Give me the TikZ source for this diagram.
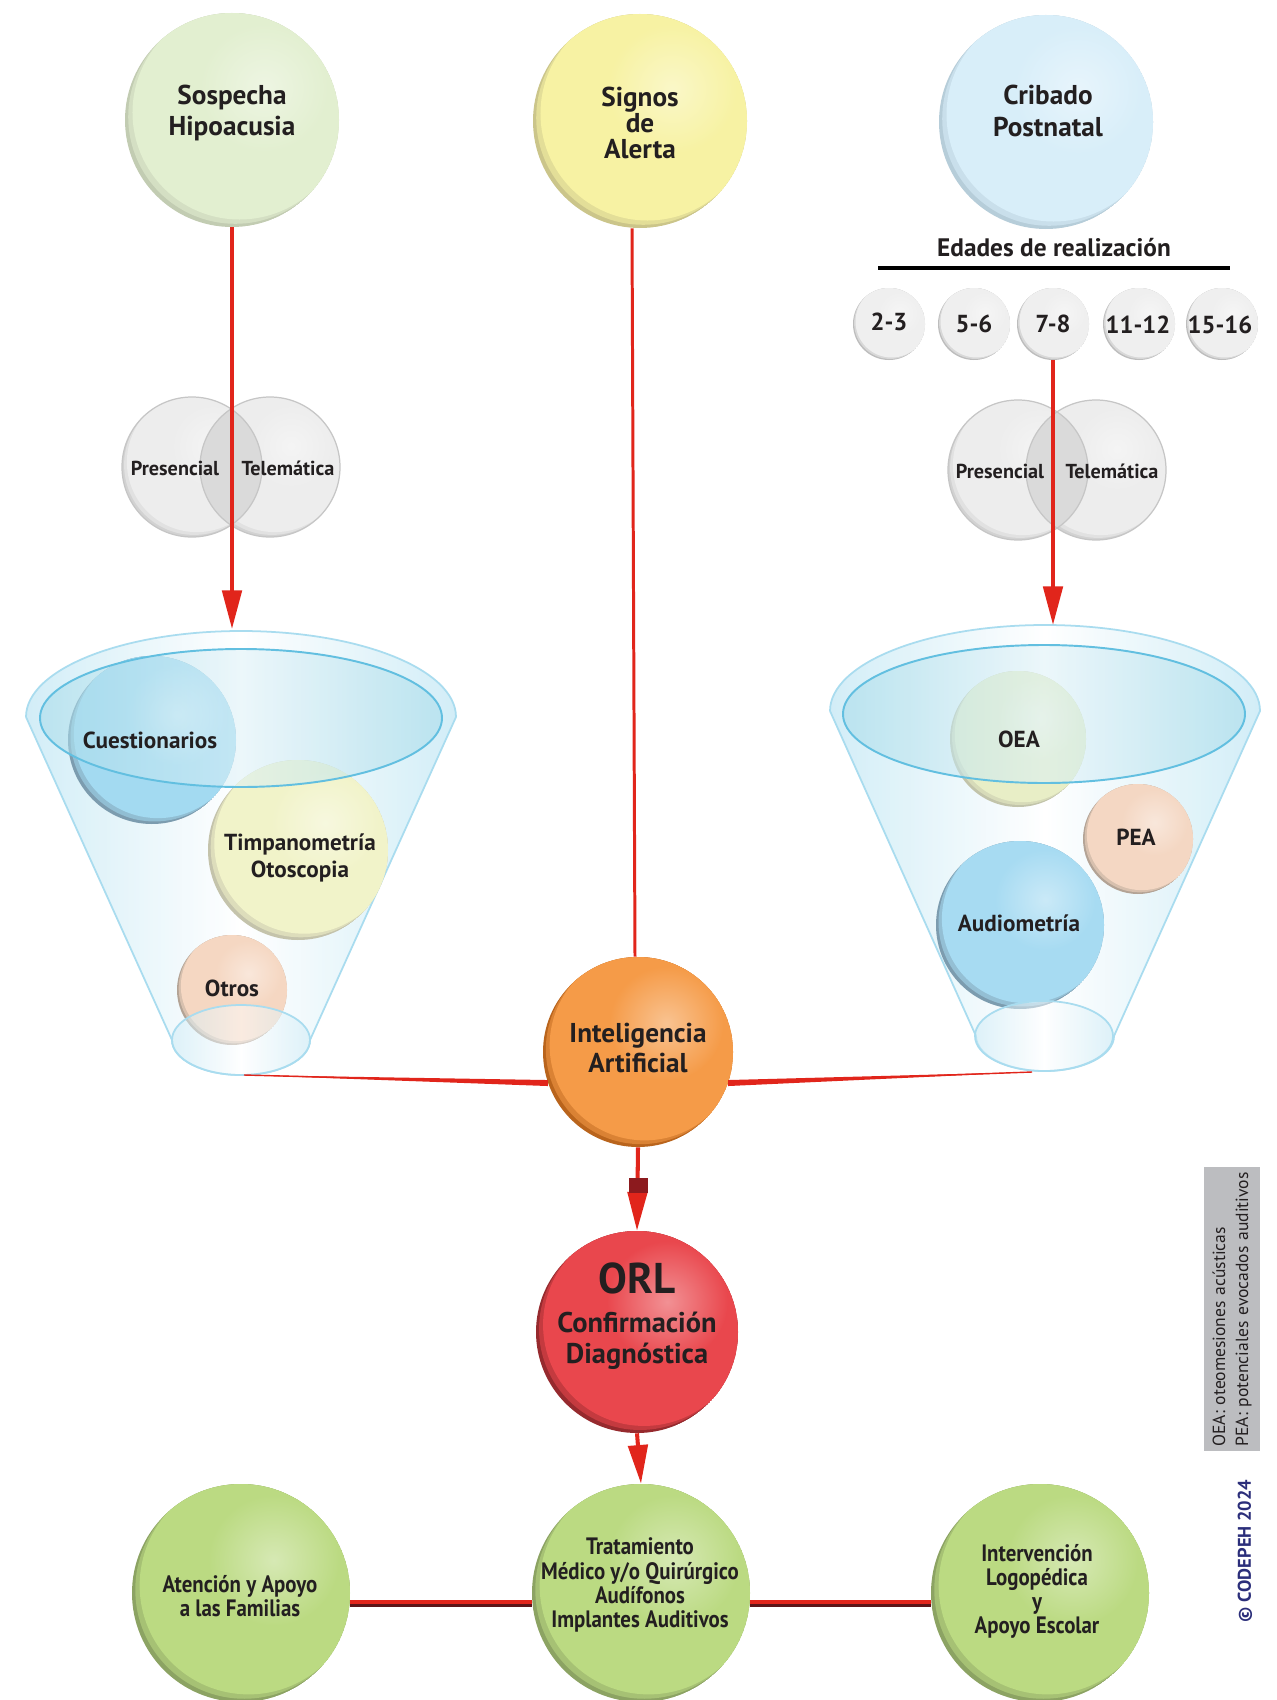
\documentclass[tikz,border=0pt]{standalone}
\usepackage{fontspec}
\setmainfont{PT Sans}
\newfontfamily\condfont{PT Sans}[FakeStretch=0.88]
\usetikzlibrary{arrows.meta,calc}

\definecolor{txt}{HTML}{231F20}
\definecolor{arrowred}{HTML}{E1251B}
\definecolor{darkred}{HTML}{8C1A1E}
\definecolor{linedark}{HTML}{5C1518}
\definecolor{sospL}{HTML}{E2EFD0}\definecolor{sospD}{HTML}{C2CCB2}
\definecolor{signL}{HTML}{F7F2A3}\definecolor{signD}{HTML}{CBC58A}
\definecolor{cribL}{HTML}{D8EEF9}\definecolor{cribD}{HTML}{B6CDD9}
\definecolor{ageL}{HTML}{EFEFEF}\definecolor{ageD}{HTML}{BDBDBD}
\definecolor{vennL}{HTML}{EDEDED}\definecolor{vennD}{HTML}{D2D2D2}
\definecolor{vennO}{HTML}{DADADA}\definecolor{vennE}{HTML}{C6C6C6}
\definecolor{cuesL}{HTML}{A3DAF1}\definecolor{cuesD}{HTML}{7C9CAF}
\definecolor{timpL}{HTML}{F1F3C9}\definecolor{timpD}{HTML}{C4C3AB}
\definecolor{otroL}{HTML}{F5D7C2}\definecolor{otroD}{HTML}{B3A395}
\definecolor{oeaL}{HTML}{E8EEC6}\definecolor{oeaD}{HTML}{C2C4AA}
\definecolor{peaL}{HTML}{F4D7C3}\definecolor{peaD}{HTML}{B3A395}
\definecolor{audL}{HTML}{A7DBF2}\definecolor{audD}{HTML}{7C9CAF}
\definecolor{iaL}{HTML}{F59B48}\definecolor{iaD}{HTML}{B9641C}
\definecolor{orlL}{HTML}{E9474D}\definecolor{orlD}{HTML}{962A2E}
\definecolor{grnL}{HTML}{BBDA82}\definecolor{grnD}{HTML}{8CA363}
\definecolor{funL}{HTML}{CBEBF6}\definecolor{funE}{HTML}{A9DCEF}
\definecolor{ellL}{HTML}{A6DBEA}\definecolor{ellM}{HTML}{DDF1F7}\definecolor{ellE}{HTML}{62BFE0}
\definecolor{legendgray}{HTML}{BCBDC0}
\definecolor{navyc}{HTML}{2B2E7A}

% background of a shaded disc + an empty named circle node
\newcommand\orb[6]{%
  \begin{scope}
    \clip (#2,#3) circle[radius=#4];
    \fill[#6] (#2,#3) circle[radius=#4];
    \fill[#6!45!#5] (#2+0.03*#4,#3-0.03*#4) circle[radius=#4];
    \fill[#5] (#2+0.07*#4,#3-0.07*#4) circle[radius=#4];
    \shade[inner color=white!40!#5, outer color=#5] (#2+0.3*#4,#3-0.3*#4) circle[radius=0.6*#4];
  \end{scope}
  \node[circle, inner sep=0pt, minimum size={#4*0.04cm}] (#1) at (#2,#3) {};
}
% funnel body: cx, rim y, bottom y
\newcommand\funbody[3]{%
  \path[left color=funL, right color=funL, middle color=white, opacity=0.85]
    (#1-215,#2) -- (#1-69,#3) arc[start angle=180, end angle=0, x radius=69, y radius=35]
    -- (#1+215,#2) arc[start angle=0, end angle=-180, x radius=215, y radius=86] -- cycle;
  \draw[funE, line width=1pt]
    (#1-215,#2) -- (#1-69,#3) arc[start angle=180, end angle=0, x radius=69, y radius=35]
    -- (#1+215,#2) arc[start angle=0, end angle=-180, x radius=215, y radius=86];
}
% funnel front: cx, inner ellipse y, bottom y
\newcommand\funfront[3]{%
  \path[left color=ellL, right color=ellL, middle color=ellM, opacity=0.55]
    (#1,#2) ellipse[x radius=201, y radius=69];
  \draw[ellE, line width=1.1pt] (#1,#2) ellipse[x radius=201, y radius=69];
  \path[left color=funL, right color=funL, middle color=white, opacity=0.5]
    (#1,#3) ellipse[x radius=69, y radius=35];
  \draw[funE, line width=1pt] (#1,#3) ellipse[x radius=69, y radius=35];
}
% venn pair: left name, right name, x1, x2, y
\newcommand\venn[5]{%
  \orb{#1}{#3}{#5}{70}{vennL}{vennD}
  \orb{#2}{#4}{#5}{70}{vennL}{vennD}
  \begin{scope}
    \clip (#3,#5) circle[radius=70];
    \fill[vennO] (#4,#5) circle[radius=70];
  \end{scope}
  \draw[vennE, line width=0.7pt] (#3,#5) circle[radius=70];
  \draw[vennE, line width=0.7pt] (#4,#5) circle[radius=70];
}

\begin{document}
\begin{tikzpicture}[x=0.02cm, y=-0.02cm,
  lbl/.style={text=txt, align=center, inner sep=0pt},
  big/.style={lbl, font=\bfseries\fontsize{15.5}{17.8}\selectfont},
  sph/.style={lbl, font=\bfseries\fontsize{13.2}{15.5}\selectfont},
  vlbl/.style={lbl, font=\bfseries\fontsize{11.5}{13}\selectfont},
  agelbl/.style={lbl, font=\bfseries\fontsize{14}{16}\selectfont},
  cond/.style={lbl, font=\condfont\bfseries\fontsize{13.5}{13.7}\selectfont},
  redarrow/.style={draw=arrowred, line width=2.3pt, -{Triangle[length=22pt, width=11pt]}},
  redline/.style={draw=arrowred, line width=1.7pt},
  hline/.style={draw=arrowred, line width=2.4pt,
    preaction={draw=linedark, line width=4pt, transform canvas={yshift=-0.7pt}}}]

\useasboundingbox (0,0) rectangle (1277,1700);
\fill[white] (0,0) rectangle (1277,1700);

% ---------- top discs ----------
\orb{sosp}{232}{120}{107}{sospL}{sospD}
\node[big] (sospT) at (232,113) {Sospecha\\Hipoacusia};
\orb{sign}{640}{121}{107}{signL}{signD}
\node[lbl, font=\bfseries\fontsize{15.5}{15}\selectfont] (signT) at (640,123) {Signos\\de\\Alerta};
\orb{crib}{1046}{122}{107}{cribL}{cribD}
\node[big] (cribT) at (1048,111) {Cribado\\Postnatal};

\node[lbl, font=\bfseries\fontsize{14.4}{16}\selectfont] (edades) at (1054,248) {Edades de realización};
\draw[line width=2.8pt, black] (878,268) -- (1230,268);

\orb{a23}{889}{324}{36}{ageL}{ageD}
\node[agelbl] (a23T) at (889,322) {2-3};
\orb{a56}{974}{324}{36}{ageL}{ageD}
\node[agelbl] (a56T) at (974,324) {5-6};
\orb{a78}{1053}{324}{36}{ageL}{ageD}
\node[agelbl] (a78T) at (1053,324) {7-8};
\orb{a1112}{1139}{324}{36}{ageL}{ageD}
\node[agelbl] (a1112T) at (1138,325) {11-12};
\orb{a1516}{1222}{324}{36}{ageL}{ageD}
\node[agelbl] (a1516T) at (1220,325) {15-16};

% ---------- venn pairs ----------
\venn{presL}{teleL}{192}{270}{467}
\node[vlbl] (presLT) at (175,468) {Presencial};
\node[vlbl] (teleLT) at (288,468) {Telemática};
\venn{presR}{teleR}{1018}{1096}{470}
\node[vlbl] (presRT) at (1000,471) {Presencial};
\node[vlbl] (teleRT) at (1112,471) {Telemática};

% ---------- funnels ----------
\funbody{241}{717}{1040}
\orb{cues}{152}{740}{84}{cuesL}{cuesD}
\orb{timp}{298}{850}{90}{timpL}{timpD}
\orb{otros}{232}{990}{55}{otroL}{otroD}
\funfront{241}{718}{1040}
\node[sph] (cuesT) at (150,740) {Cuestionarios};
\node[sph] (timpT) at (300,858) {Timpanometría\\Otoscopia};
\node[sph] (otrosT) at (232,988) {Otros};

\funbody{1045}{711}{1036}
\orb{oea}{1018}{739}{68}{oeaL}{oeaD}
\orb{pea}{1138}{839}{55}{peaL}{peaD}
\orb{aud}{1020}{925}{84}{audL}{audD}
\funfront{1044}{714}{1036}
\node[sph] (oeaT) at (1019,739) {OEA};
\node[sph] (peaT) at (1136,837) {PEA};
\node[sph] (audT) at (1019,923) {Audiometría};

\coordinate (lfin) at (232,629);
\coordinate (rfin) at (1053,625);
\coordinate (lfbot) at (244,1075);
\coordinate (rfbot) at (1032,1072);

% ---------- centre column ----------
\orb{ia}{638}{1052}{95}{iaL}{iaD}
\node[lbl, font=\bfseries\fontsize{15.5}{17.5}\selectfont] (iaT) at (638,1048) {Inteligencia\\Artificial};
\orb{orl}{637}{1332}{101}{orlL}{orlD}
\node[lbl, font=\bfseries\fontsize{16.2}{17.5}\selectfont] (orlT) at (637,1316)
  {{\fontsize{24.5}{25}\selectfont ORL}\\[5pt]Confirmación\\Diagnóstica};

% ---------- bottom row ----------
\orb{atn}{241}{1593}{109}{grnL}{grnD}
\node[cond] (atnT) at (240,1596) {Atención y Apoyo\\a las Familias};
\orb{trat}{641}{1593}{109}{grnL}{grnD}
\node[cond] (tratT) at (640,1585) {Tratamiento\\Médico y/o Quirúrgico\\Audífonos\\Implantes Auditivos};
\orb{interv}{1040}{1593}{109}{grnL}{grnD}
\node[cond] (intervT) at (1037,1591) {Intervención\\Logopédica\\y\\Apoyo Escolar};

% ---------- legend ----------
\node[fill=legendgray, rotate=90, minimum width=5.68cm, minimum height=1.12cm,
      text width=5.5cm, align=left, inner sep=0.08cm, text=txt,
      font=\fontsize{10}{13}\selectfont] (legend) at (1232,1309)
  {OEA: oteomesiones acústicas\\PEA: potenciales evocados auditivos};
\node[rotate=90, text=navyc, inner sep=0pt, font=\bfseries\fontsize{10.5}{12}\selectfont] (copy) at (1245,1551) {© CODEPEH 2024};

% ---------- connectors ----------
\draw[redarrow] (sosp.south) -- (lfin);
\draw[redarrow] (a78.south) -- (rfin);
\draw[redline] ([xshift=-0.16cm]sign.south) -- ([xshift=-0.06cm]ia.north);

\fill[arrowred] (lfbot) -- ($(ia.199)+(0,-3)$) -- ($(ia.199)+(0,3)$) -- cycle;
\draw[arrowred, line width=0.8pt] (lfbot) -- (ia.199);
\fill[arrowred] (rfbot) -- ($(ia.341)+(0,-3)$) -- ($(ia.341)+(0,3)$) -- cycle;
\draw[arrowred, line width=0.8pt] (rfbot) -- (ia.341);

\draw[redarrow] (ia.south) -- (orl.north);
\fill[darkred] ([xshift=-0.19cm, yshift=-0.62cm]ia.south) rectangle ([xshift=0.19cm, yshift=-0.92cm]ia.south);
\draw[redarrow] (orl.south) -- (trat.north);

\draw[hline] ([yshift=-0.18cm]atn.east) -- ([yshift=-0.18cm]trat.west);
\draw[hline] ([yshift=-0.18cm]trat.east) -- ([yshift=-0.18cm]interv.west);
\end{tikzpicture}
\end{document}
